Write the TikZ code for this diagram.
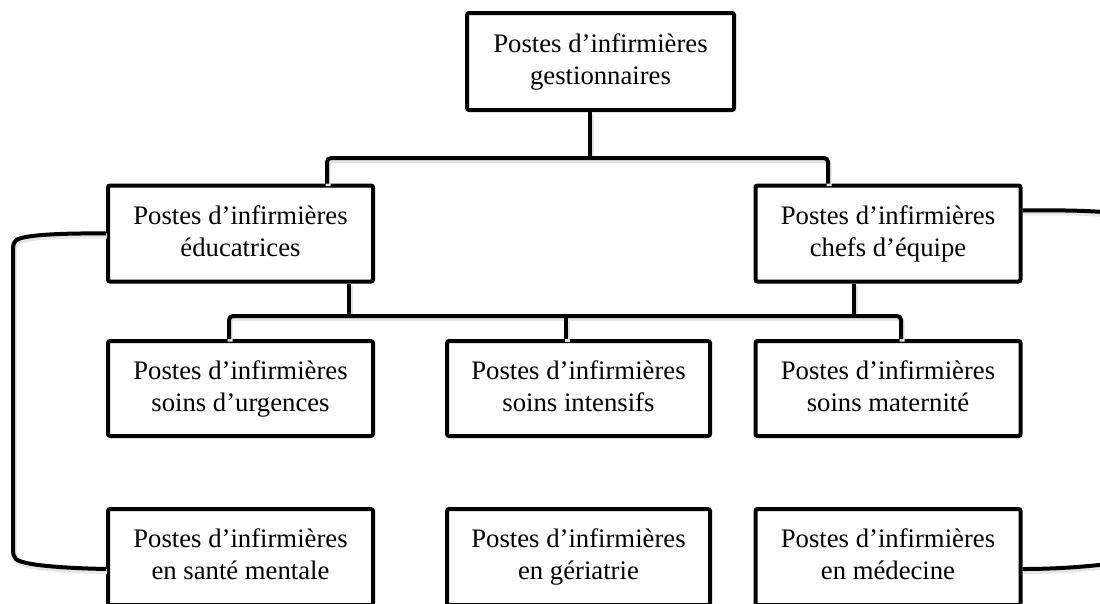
\documentclass[tikz,border=0pt]{standalone}
\usepackage{fontspec}
\setmainfont{Liberation Serif}
\begin{document}
\begin{tikzpicture}[x=1pt,y=-1pt,
  post/.style={draw=black, line width=4pt, rounded corners=2pt, fill=white,
    inner sep=0pt, align=center, minimum width=265pt, minimum height=96pt,
    text height=51pt, text depth=6pt,
    font=\fontsize{26.7}{32}\selectfont},
  conn/.style={draw=black, line width=4pt, rounded corners=4pt,
    preaction={draw=black!10, line width=5pt,
      transform canvas={shift={(1pt,-2.5pt)}}}}]
\useasboundingbox (0,0) rectangle (1100,603);
\clip (0,0) rectangle (1100,603);

\coordinate (bus1) at (590,158);
\coordinate (bus2) at (566,316);

\node[post, minimum width=267pt, minimum height=97pt] (top) at (600.5,61.5)
  {Postes d’infirmières\\gestionnaires};

\node[post] (edu) at (240.5,233.5) {Postes d’infirmières\\éducatrices};
\node[post] (chef) at (888,233.5) {Postes d’infirmières\\chefs d’équipe};

\node[post, minimum height=95pt] (urg) at (240.5,388.5) {Postes d’infirmières\\soins d’urgences};
\node[post, minimum height=95pt, minimum width=263pt] (int) at (578.5,388.5) {Postes d’infirmières\\soins intensifs};
\node[post, minimum height=95pt] (mat) at (888,388.5) {Postes d’infirmières\\soins maternité};

\node[post] (ment) at (240.5,557) {Postes d’infirmières\\en santé mentale};
\node[post, minimum width=263pt] (ger) at (578.5,557) {Postes d’infirmières\\en gériatrie};
\node[post] (med) at (888,557) {Postes d’infirmières\\en médecine};

% top level
\draw[conn] (top.south -| bus1) -- (bus1);
\draw[conn] ([xshift=86.5pt]edu.north) |- (bus1) -| ([xshift=-60pt]chef.north);

% middle bus
\draw[conn] ([xshift=108.5pt]edu.south) -- ([xshift=108.5pt]edu.south |- bus2);
\draw[conn] ([xshift=-34pt]chef.south) -- ([xshift=-34pt]chef.south |- bus2);
\draw[conn] ([xshift=-11.5pt]urg.north) |- (bus2) -| ([xshift=13pt]mat.north);
\draw[conn] ([xshift=-12.5pt]int.north) -- ([xshift=-12.5pt]int.north |- bus2);

% side brackets
\draw[conn] (edu.west) .. controls (60,233) and (22,235) .. (13,243)
  -- (13,556) .. controls (22,565) and (60,568) .. ([yshift=-12pt]ment.west);
\draw[conn] ([yshift=23pt]chef.east) .. controls (1070,210) and (1110,210.5) .. (1150,218)
  -- (1150,558) .. controls (1110,564.5) and (1070,569) .. ([yshift=-12pt]med.east);
\end{tikzpicture}
\end{document}
